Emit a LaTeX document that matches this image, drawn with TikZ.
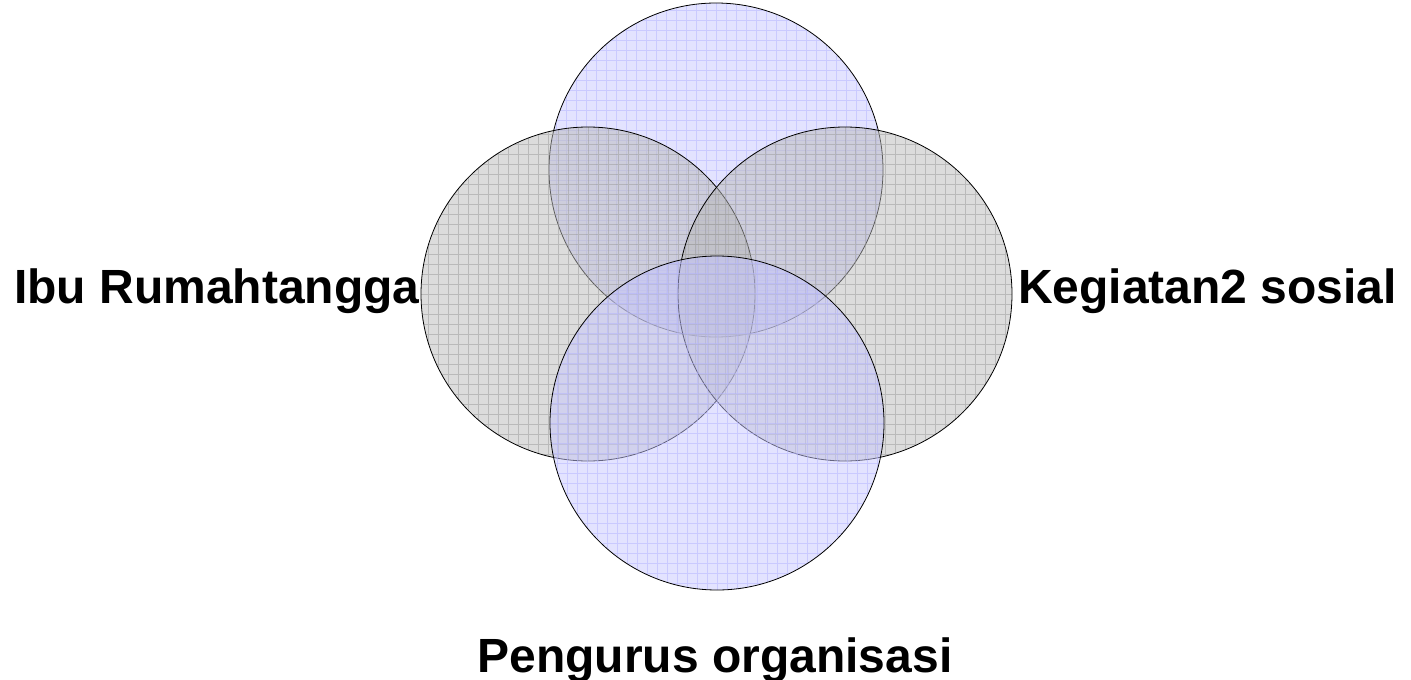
\documentclass[tikz,border=0pt]{standalone}
\usepackage{fontspec}
\setmainfont{Liberation Sans}
\usepackage{tikz}
\usetikzlibrary{positioning}

\colorlet{graygrid}{black!40}
\colorlet{bluegrid}{blue!30}

\tikzset{
  ring/.style={circle, draw=black, line width=0.8pt, minimum size=334pt,
    inner sep=0pt, fill opacity=0.5,
    path picture={\draw[draw opacity=0.5, #1, line width=0.5pt]
      (path picture bounding box.south west) grid[step=10pt]
      (path picture bounding box.north east);}},
  grayring/.style={ring=graygrid, fill=gray!55},
  blueexring/.style={ring=bluegrid, fill=blue!22},
  setlabel/.style={font=\bfseries\fontsize{48}{56}\selectfont, inner sep=0pt},
}

\begin{document}
\begin{tikzpicture}[x=1pt,y=-1pt]
  \useasboundingbox (0,0) rectangle (1411,680);

  \node[blueexring] (top) at (716,170) {};
  \node[grayring] (left) at (588,294) {};
  \node[grayring] (right) at (845,294) {};
  \node[blueexring] (bottom) at (717,423) {};

  \node[setlabel, anchor=base west] (ibu) at (14,303) {Ibu Rumahtangga};
  \node[setlabel, anchor=base west] (sosial) at (1018,303) {Kegiatan2 sosial};
  \node[setlabel, anchor=base] (pengurus) at (715,672) {Pengurus organisasi};

\end{tikzpicture}
\end{document}
